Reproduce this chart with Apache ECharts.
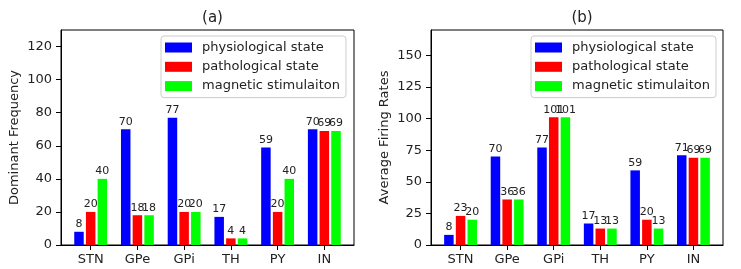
<!DOCTYPE html>
<html>
<head>
<meta charset="utf-8">
<script src="https://cdn.jsdelivr.net/npm/echarts@6/dist/echarts.min.js"></script>
<style>html,body{margin:0;padding:0;background:#fff;}#c{width:741px;height:269px;}</style>
</head>
<body>
<div id="c"></div>
<script>
var categories = ['STN', 'GPe', 'GPi', 'TH', 'PY', 'IN'];
var seriesNames = ['physiological state', 'pathological state', 'magnetic stimulaiton'];
var colors = ['#0000ff', '#ff0000', '#00ff00'];
// (a) Dominant Frequency
var freqPhys = [8, 70, 77, 17, 59, 70];
var freqPath = [20, 18, 20, 4, 20, 69];
var freqMag = [40, 18, 20, 4, 40, 69];
// (b) Average Firing Rates
var ratePhys = [8, 70, 77, 17, 59, 71];
var ratePath = [23, 36, 101, 13, 20, 69];
var rateMag = [20, 36, 101, 13, 13, 69];
var freqTicks = [0, 20, 40, 60, 80, 100, 120];
var rateTicks = [0, 25, 50, 75, 100, 125, 150];

var FONT = 'DejaVu Sans';
var TXT = '#222';
var catIdx = categories.map(function (c, i) { return i; });

function toPairs(arr) { return arr.map(function (v, i) { return [i, v]; }); }

function xAxis(gi) {
  return {
    type: 'value', gridIndex: gi, min: -0.635, max: 5.635,
    splitLine: { show: false },
    axisLine: { show: true, onZero: false, lineStyle: { color: '#000', width: 1 } },
    axisTick: { show: true, customValues: catIdx, length: 5, lineStyle: { color: '#000' } },
    axisLabel: { customValues: catIdx, margin: 8, fontSize: 13, color: TXT, fontFamily: FONT,
      formatter: function (v) { return categories[Math.round(v)]; } }
  };
}
function yAxis(gi, max, ticks, name) {
  return {
    type: 'value', gridIndex: gi, min: 0, max: max,
    name: name, nameLocation: 'middle', nameGap: 40,
    nameTextStyle: { fontSize: 13, color: TXT, fontFamily: FONT },
    splitLine: { show: false },
    axisLine: { show: true, onZero: false, lineStyle: { color: '#000', width: 1 } },
    axisTick: { show: true, customValues: ticks, length: 5, lineStyle: { color: '#000' } },
    axisLabel: { customValues: ticks, margin: 9, fontSize: 13, color: TXT, fontFamily: FONT }
  };
}
function bar(gi, idx, arr) {
  return {
    type: 'bar', name: seriesNames[idx], xAxisIndex: gi, yAxisIndex: gi,
    data: toPairs(arr), barWidth: 9.5, barGap: '23%',
    itemStyle: { color: colors[idx] },
    label: { show: true, position: 'top', distance: 2, fontSize: 11, color: TXT, fontFamily: FONT,
      formatter: function (p) { return String(p.value[1]); } },
    animation: false
  };
}
function legend(left) {
  return {
    orient: 'vertical', left: left, top: 36, icon: 'rect',
    itemWidth: 27, itemHeight: 10, itemGap: 4.3,
    padding: [4, 6, 4, 4],
    borderColor: '#ccc', borderWidth: 1, borderRadius: 3,
    backgroundColor: 'rgba(255,255,255,0.8)',
    textStyle: { fontSize: 13, color: TXT, fontFamily: FONT, lineHeight: 15, padding: [0, 0, 0, 5] },
    data: seriesNames
  };
}

var chart = echarts.init(document.getElementById('c'));
chart.setOption({
  animation: false,
  textStyle: { fontFamily: FONT },
  title: [
    { text: '(a)', left: 207.5, top: 6, textAlign: 'center', textStyle: { fontSize: 15, fontWeight: 'normal', color: TXT, fontFamily: FONT } },
    { text: '(b)', left: 577, top: 6, textAlign: 'center', textStyle: { fontSize: 15, fontWeight: 'normal', color: TXT, fontFamily: FONT } }
  ],
  legend: [legend(161), legend(531)],
  grid: [
    { left: 61, top: 30, width: 293, height: 215, show: true, borderColor: '#000', borderWidth: 1, containLabel: false },
    { left: 431, top: 30, width: 292, height: 215, show: true, borderColor: '#000', borderWidth: 1, containLabel: false }
  ],
  xAxis: [xAxis(0), xAxis(1)],
  yAxis: [yAxis(0, 130, freqTicks, 'Dominant Frequency'), yAxis(1, 170, rateTicks, 'Average Firing Rates')],
  series: [
    bar(0, 0, freqPhys), bar(0, 1, freqPath), bar(0, 2, freqMag),
    bar(1, 0, ratePhys), bar(1, 1, ratePath), bar(1, 2, rateMag)
  ]
});
</script>
</body>
</html>
